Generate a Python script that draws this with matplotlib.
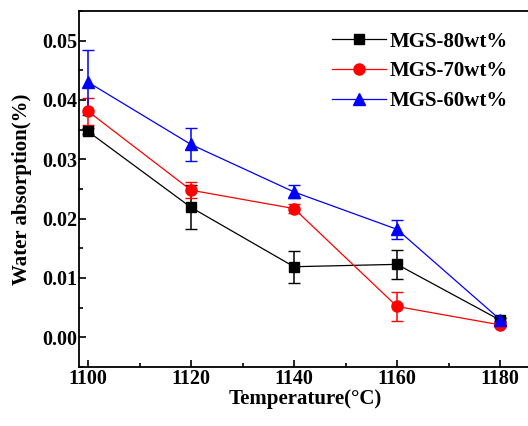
import matplotlib.pyplot as plt
from matplotlib.ticker import MultipleLocator

plt.rcParams['font.family'] = ['Liberation Serif', 'DejaVu Serif']
plt.rcParams['font.weight'] = 'bold'

temperature = [1100, 1120, 1140, 1160, 1180]

mgs80 = [0.0347, 0.0219, 0.0119, 0.0123, 0.0029]
mgs80_err = [0.0005, 0.0037, 0.0027, 0.0025, 0.0003]

mgs70 = [0.0381, 0.0248, 0.0217, 0.0052, 0.0021]
mgs70_err = [0.0023, 0.0014, 0.0007, 0.0025, 0.0003]

mgs60 = [0.0430, 0.0325, 0.0245, 0.0182, 0.0030]
mgs60_err = [0.0055, 0.0028, 0.0011, 0.0016, 0.0003]

labels = ['MGS-80wt%', 'MGS-70wt%', 'MGS-60wt%']

fig = plt.figure(figsize=(5.28, 4.26), dpi=100)
ax = fig.add_axes([0.1496, 0.1385, 0.856, 0.8357])

series = [(mgs80, mgs80_err, 'black', 's', 7.5),
          (mgs70, mgs70_err, '#ff0000', 'o', 8),
          (mgs60, mgs60_err, '#0000ff', '^', 8.5)]
handles = []
for (vals, err, c, m, ms), lab in zip(series, labels):
    eb = ax.errorbar(temperature, vals, yerr=err, color=c, marker=m, ms=ms,
                     lw=0.9, capsize=4, elinewidth=1.1, label=lab)
    handles.append(eb.lines[0])

ax.set_xlim(1098.25, 1186)
ax.set_ylim(-0.005, 0.055)
ax.xaxis.set_major_locator(MultipleLocator(20))
ax.xaxis.set_minor_locator(MultipleLocator(10))
ax.yaxis.set_major_locator(MultipleLocator(0.01))
ax.yaxis.set_minor_locator(MultipleLocator(0.005))
ax.yaxis.set_major_formatter(plt.FormatStrFormatter('%.2f'))
ax.tick_params(which='both', direction='in', labelsize=14.5, width=1.2, pad=1.5)
ax.tick_params(which='major', length=5)
ax.tick_params(which='minor', length=3)
for s in ax.spines.values():
    s.set_linewidth(1.3)

ax.set_xlabel('Temperature(\u00b0C)', fontsize=15, fontweight='bold', labelpad=0)
ax.set_ylabel('Water absorption(%)', fontsize=15, fontweight='bold', labelpad=7)

ax.legend(handles, labels, loc='upper right', bbox_to_anchor=(0.99, 0.995),
          frameon=False, fontsize=15, handlelength=2.6, handletextpad=0.15,
          labelspacing=0.47)

fig.savefig('out.png', dpi=100)
